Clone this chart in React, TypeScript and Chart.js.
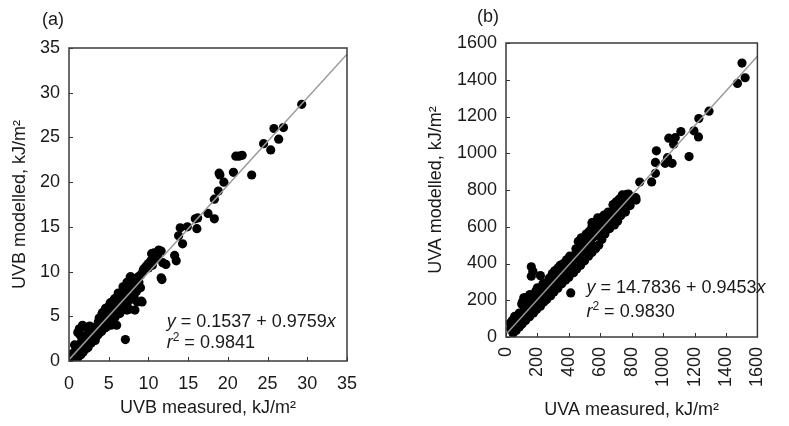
import React, { useEffect, useRef } from "react";
import { Chart, registerables } from "chart.js";

Chart.register(...registerables);

const FONT = "'Liberation Sans', Arial, Helvetica, sans-serif";
const TEXT = "#1a1a1a";

// ---------- Panel (a): UVB ----------
const uvbMeasured = [
  0.3, 0.5, 0.6, 0.8, 0.9, 1.0, 1.2, 1.3, 1.4, 1.5,
  1.6, 1.8, 1.9, 2.0, 2.1, 2.3, 2.4, 2.5, 2.6, 2.8,
  2.9, 3.0, 3.2, 3.3, 3.4, 3.5, 3.7, 3.8, 3.9, 4.0,
  4.2, 4.3, 4.4, 4.5, 4.6, 4.7, 4.8, 4.9, 5.0, 5.1,
  5.2, 5.3, 5.5, 5.6, 5.8, 5.9, 6.0, 6.2, 6.3, 6.4,
  6.6, 6.7, 6.9, 7.0, 7.2, 7.4, 7.6, 7.8, 8.0, 8.2,
  8.4, 8.6, 8.8,
  1.7, 1.3, 1.1, 2.0, 0.7, 6.0, 7.1, 7.0, 7.6, 8.6,
  9.1, 7.8, 8.7, 8.1, 6.3, 5.7, 5.2, 4.6, 4.2, 3.8,
  2.5, 3.5, 4.5, 5.5, 6.5, 0.2, 0.4, 1.0, 1.5, 2.2,
  9.4, 9.7, 10.0, 10.3, 10.4, 10.7, 11.0, 11.3, 11.6, 10.9,
  11.8, 12.2, 11.6, 11.2, 10.5,
  13.3, 13.5, 13.8, 14.0, 14.3, 14.9, 15.9, 16.2, 16.1, 17.5,
  18.3, 18.3, 18.8, 19.5, 19.0, 18.9, 20.7, 21.0, 21.4, 21.8,
  23.0, 24.5, 25.4, 25.8, 26.4, 27.0, 29.3,
  1.8, 1.4, 2.6, 3.7, 4.1, 4.5, 5.0, 5.4, 5.8, 6.2,
  6.8, 7.3, 7.7, 9.0, 9.3,
  0.8, 1.2, 1.8, 2.4, 2.8, 3.3, 3.7, 4.1, 4.7, 5.0,
  5.4, 5.8, 6.4, 6.8, 7.3, 7.8, 8.2, 8.5, 9.0, 5.3,
  9.2, 7.3, 8.3, 11.7, 10.0,
];
const uvbModelled = [
  0.5, 0.2, 0.9, 0.5, 1.3, 0.7, 1.5, 0.9, 1.9, 1.2,
  2.2, 1.5, 2.5, 1.8, 2.8, 2.0, 2.6, 3.1, 2.3, 3.2,
  2.6, 3.5, 2.9, 3.6, 3.1, 3.9, 3.3, 4.2, 3.6, 4.5,
  3.8, 4.7, 4.1, 5.0, 4.3, 5.3, 4.6, 5.6, 4.9, 5.9,
  5.2, 6.2, 5.4, 6.4, 5.6, 6.6, 6.0, 6.9, 6.3, 7.2,
  6.5, 7.5, 6.8, 7.6, 7.1, 7.9, 7.4, 8.3, 7.9, 8.6,
  8.3, 9.0, 8.8,
  4.0, 3.6, 3.2, 3.8, 1.8, 4.0, 2.4, 5.8, 5.8, 6.6,
  6.7, 9.4, 9.4, 9.2, 7.4, 6.9, 6.5, 5.9, 5.4, 4.8,
  3.4, 2.8, 3.7, 4.7, 5.6, 0.1, 0.8, 0.3, 0.7, 1.4,
  10.3, 10.6, 10.9, 11.2, 12.0, 12.1, 11.6, 12.4, 12.3, 11.4,
  11.0, 10.8, 9.3, 11.9, 10.7,
  11.8, 11.2, 14.0, 14.9, 13.1, 15.0, 15.9, 16.0, 14.8, 16.5,
  15.9, 18.1, 19.0, 20.0, 20.8, 21.0, 21.1, 22.9, 22.9, 23.0,
  20.8, 24.3, 23.6, 26.0, 24.8, 26.1, 28.7,
  3.8, 2.9, 3.9, 4.4, 5.1, 5.5, 6.1, 6.6, 7.0, 7.6,
  8.3, 8.8, 9.4, 9.6, 10.0,
  0.2, 0.5, 1.0, 1.5, 2.0, 2.3, 3.0, 3.3, 3.8, 4.2,
  4.5, 4.9, 5.3, 6.0, 6.4, 6.9, 7.3, 7.8, 8.2, 4.0,
  6.6, 5.7, 5.7, 9.1, 10.4,
];
const uvbTicks = [0, 5, 10, 15, 20, 25, 30, 35];
const uvbIntercept = 0.1537;
const uvbSlope = 0.9759;
const uvbEquation = " = 0.1537 + 0.9759";
const uvbR2 = " = 0.9841";

// ---------- Panel (b): UVA ----------
const uvaMeasured = [
  30, 40, 50, 55, 60, 70, 75, 80, 90, 95,
  100, 105, 110, 115, 120, 125, 130, 135, 140, 145,
  150, 155, 160, 165, 170, 175, 180, 185, 190, 195,
  200, 205, 210, 215, 220, 225, 230, 240, 245, 250,
  260, 265, 270, 280, 285, 290, 300, 305, 310, 320,
  330, 335, 340, 350, 355, 360, 370, 380, 385, 390,
  400, 410, 420, 425, 430, 440, 450, 460, 470, 480,
  490, 500, 510, 520, 530, 540, 550, 560, 570, 580,
  590, 600, 610, 620, 630, 640, 650, 660, 670, 680,
  690, 700, 710, 720, 730, 740, 750, 760, 770, 780,
  790,
  161, 171, 219, 161, 113, 123, 104, 55, 27, 412,
  382, 366, 328, 268, 200, 152, 421, 431, 452, 531,
  479, 470, 566, 547, 584, 605, 682, 701, 768, 740,
  797, 826, 851, 927, 951, 951, 957, 1013, 1028, 1057,
  1036, 1077, 1067, 1113, 1165, 1196, 1225, 1227, 1292, 1473,
  1502, 1522,
  161, 219, 250, 300, 350, 150, 100, 120,
  40, 65, 85, 100, 115, 130, 150, 170, 190, 205,
  225, 235, 255, 275, 295, 310, 330, 345, 365, 385,
  405, 445, 460, 490, 510, 530, 547, 566, 590, 610,
  624, 650, 682, 700, 720, 740, 780,
  45, 65, 85, 105, 125, 150, 175, 195, 215, 240,
  260, 285, 305, 330, 355, 380, 400, 430, 450, 475,
  500, 525, 547, 570, 590, 610, 630, 660, 690, 710,
  730, 760, 790, 828,
];
const uvaModelled = [
  45, 35, 60, 40, 75, 55, 95, 70, 100, 80,
  115, 90, 130, 100, 140, 110, 150, 120, 165, 130,
  175, 140, 185, 150, 195, 160, 205, 170, 215, 180,
  225, 190, 235, 200, 240, 210, 250, 230, 260, 235,
  270, 250, 280, 265, 295, 275, 305, 290, 320, 300,
  330, 315, 345, 330, 355, 340, 365, 360, 380, 370,
  395, 390, 410, 440, 420, 445, 430, 455, 450, 475,
  470, 490, 495, 505, 520, 510, 540, 545, 560, 570,
  585, 590, 600, 610, 620, 625, 640, 650, 660, 655,
  675, 680, 695, 700, 715, 720, 735, 745, 750, 760,
  755,
  382, 358, 334, 331, 213, 214, 190, 112, 76, 240,
  358, 322, 295, 268, 268, 231, 395, 440, 467, 467,
  540, 522, 622, 622, 649, 585, 721, 721, 776, 767,
  749, 758, 843, 844, 891, 950, 1013, 945, 976, 945,
  1082, 1085, 1049, 1118, 982, 1122, 1089, 1189, 1229, 1380,
  1491, 1411,
  149, 167, 200, 255, 300, 120, 70, 90,
  90, 110, 130, 180, 165, 185, 210, 200, 250, 240,
  265, 290, 295, 320, 345, 360, 375, 390, 400, 420,
  440, 480, 520, 537, 560, 575, 600, 627, 640, 650,
  664, 680, 718, 735, 750, 773, 778,
  20, 35, 55, 75, 90, 110, 130, 150, 170, 190,
  205, 225, 245, 265, 290, 310, 325, 350, 370, 390,
  415, 440, 460, 480, 500, 530, 560, 590, 610, 630,
  660, 680, 715, 745,
];
const uvaTicks = [0, 200, 400, 600, 800, 1000, 1200, 1400, 1600];
const uvaIntercept = 14.7836;
const uvaSlope = 0.9453;
const uvaEquation = " = 14.7836 + 0.9453";
const uvaR2 = " = 0.9830";

type Panel = {
  tag: string;
  xs: number[];
  ys: number[];
  ticks: number[];
  intercept: number;
  slope: number;
  equation: string;
  r2: string;
  xTitle: string;
  yTitle: string;
  width: number;
  height: number;
  plotLeft: number;
  plotTop: number;
  plotRight: number;
  plotBottom: number;
  xRotation: number;
  xLabelPad: number;
  yTitlePad: number;
  xTitlePad: number;
  tagDx: number;
  tagDy: number;
  eqX: number;
  eqY1: number;
  eqY2: number;
};

const panels: Panel[] = [
  {
    tag: "(a)",
    xs: uvbMeasured,
    ys: uvbModelled,
    ticks: uvbTicks,
    intercept: uvbIntercept,
    slope: uvbSlope,
    equation: uvbEquation,
    r2: uvbR2,
    xTitle: "UVB measured, kJ/m²",
    yTitle: "UVB modelled, kJ/m²",
    width: 395,
    height: 426,
    plotLeft: 69,
    plotTop: 48,
    plotRight: 347,
    plotBottom: 361,
    xRotation: 0,
    xLabelPad: 12,
    yTitlePad: 9,
    xTitlePad: 7,
    tagDx: -27,
    tagDy: -23,
    eqX: 12.3,
    eqY1: 3.84,
    eqY2: 1.45,
  },
  {
    tag: "(b)",
    xs: uvaMeasured,
    ys: uvaModelled,
    ticks: uvaTicks,
    intercept: uvaIntercept,
    slope: uvaSlope,
    equation: uvaEquation,
    r2: uvaR2,
    xTitle: "UVA measured, kJ/m²",
    yTitle: "UVA modelled, kJ/m²",
    width: 394,
    height: 426,
    plotLeft: 111,
    plotTop: 43,
    plotRight: 386,
    plotBottom: 337,
    xRotation: 90,
    xLabelPad: 10,
    yTitlePad: 30,
    xTitlePad: 5,
    tagDx: -29,
    tagDy: -21,
    eqX: 512,
    eqY1: 238,
    eqY2: 110,
  },
];

function makeDecorPlugin(p: Panel) {
  return {
    id: "decor" + p.tag,
    afterDraw(chart: any) {
      const { ctx, chartArea: a, scales } = chart;
      const sx = scales.x;
      const sy = scales.y;
      ctx.save();
      ctx.strokeStyle = "#333";
      ctx.lineWidth = 1;
      sx.ticks.forEach((t: any) => {
        const px = Math.round(sx.getPixelForValue(t.value)) + 0.5;
        ctx.beginPath();
        ctx.moveTo(px, a.bottom);
        ctx.lineTo(px, a.bottom - 4);
        ctx.stroke();
      });
      sy.ticks.forEach((t: any) => {
        const py = Math.round(sy.getPixelForValue(t.value)) + 0.5;
        ctx.beginPath();
        ctx.moveTo(a.left, py);
        ctx.lineTo(a.left + 4, py);
        ctx.stroke();
      });
      ctx.strokeStyle = "#3a3a3a";
      ctx.lineWidth = 1.5;
      ctx.strokeRect(a.left, a.top, a.right - a.left, a.bottom - a.top);

      ctx.fillStyle = TEXT;
      ctx.textBaseline = "alphabetic";
      ctx.textAlign = "left";
      ctx.font = `18px ${FONT}`;
      ctx.fillText(p.tag, a.left + p.tagDx, a.top + p.tagDy);

      const italic = `italic 18px ${FONT}`;
      const normal = `18px ${FONT}`;
      const x0 = sx.getPixelForValue(p.eqX);
      const y1 = sy.getPixelForValue(p.eqY1);
      const y2 = sy.getPixelForValue(p.eqY2);
      let cx = x0;
      ctx.font = italic;
      ctx.fillText("y", cx, y1);
      cx += ctx.measureText("y").width;
      ctx.font = normal;
      ctx.fillText(p.equation, cx, y1);
      cx += ctx.measureText(p.equation).width;
      ctx.font = italic;
      ctx.fillText("x", cx, y1);

      cx = x0;
      ctx.font = italic;
      ctx.fillText("r", cx, y2);
      cx += ctx.measureText("r").width;
      ctx.font = `12px ${FONT}`;
      ctx.fillText("2", cx, y2 - 7);
      cx += ctx.measureText("2").width;
      ctx.font = normal;
      ctx.fillText(p.r2, cx, y2);
      ctx.restore();
    },
  };
}

function buildChart(canvas: HTMLCanvasElement, p: Panel) {
  const min = p.ticks[0];
  const max = p.ticks[p.ticks.length - 1];
  const points = p.xs.map((x, i) => ({ x, y: p.ys[i] }));
  const fitLine = [
    { x: min, y: p.intercept + p.slope * min },
    { x: max, y: p.intercept + p.slope * max },
  ];
  const tickFont = { family: FONT, size: 18 };
  const setTicks = (scale: any) => {
    scale.ticks = p.ticks.map((v) => ({ value: v }));
  };
  return new Chart(canvas, {
    type: "scatter",
    data: {
      datasets: [
        {
          type: "line",
          data: fitLine,
          borderColor: "#9a9a9a",
          borderWidth: 1.5,
          pointRadius: 0,
          showLine: true,
          order: 0,
        } as any,
        {
          data: points,
          backgroundColor: "#000",
          borderWidth: 0,
          pointRadius: 4.6,
          order: 1,
        },
      ],
    },
    options: {
      animation: false,
      responsive: false,
      maintainAspectRatio: false,
      layout: {
        padding: {
          left: 0,
          top: p.plotTop,
          right: p.width - p.plotRight,
          bottom: 0,
        },
      },
      plugins: {
        legend: { display: false },
        tooltip: { enabled: false },
      },
      scales: {
        x: {
          type: "linear",
          min,
          max,
          afterBuildTicks: setTicks,
          afterFit: (s: any) => {
            s.height = p.height - p.plotBottom;
          },
          grid: { display: false, drawTicks: false },
          border: { display: false },
          ticks: {
            font: tickFont,
            color: TEXT,
            padding: p.xLabelPad,
            autoSkip: false,
            minRotation: p.xRotation,
            maxRotation: p.xRotation,
            callback: (v: any) => String(v),
          },
          title: {
            display: true,
            text: p.xTitle,
            font: tickFont,
            color: TEXT,
            padding: { top: 0, bottom: p.xTitlePad },
          },
        },
        y: {
          type: "linear",
          min,
          max,
          afterBuildTicks: setTicks,
          afterFit: (s: any) => {
            s.width = p.plotLeft;
          },
          grid: { display: false, drawTicks: false },
          border: { display: false },
          ticks: {
            font: tickFont,
            color: TEXT,
            padding: 9,
            autoSkip: false,
            callback: (v: any) => String(v),
          },
          title: {
            display: true,
            text: p.yTitle,
            font: tickFont,
            color: TEXT,
            padding: { top: p.yTitlePad, bottom: 0 },
          },
        },
      },
    },
    plugins: [makeDecorPlugin(p)],
  } as any);
}

function PanelChart({ panel, left }: { panel: Panel; left: number }) {
  const ref = useRef<HTMLCanvasElement | null>(null);
  useEffect(() => {
    if (!ref.current) return;
    const chart = buildChart(ref.current, panel);
    return () => chart.destroy();
  }, [panel]);
  return (
    <canvas
      ref={ref}
      width={panel.width}
      height={panel.height}
      style={{
        position: "absolute",
        left,
        top: 0,
        width: panel.width,
        height: panel.height,
      }}
    />
  );
}

export default function App() {
  return (
    <div
      style={{
        position: "absolute",
        left: 0,
        top: 0,
        width: 789,
        height: 426,
        background: "#fff",
        overflow: "hidden",
      }}
    >
      <PanelChart panel={panels[0]} left={0} />
      <PanelChart panel={panels[1]} left={395} />
    </div>
  );
}
